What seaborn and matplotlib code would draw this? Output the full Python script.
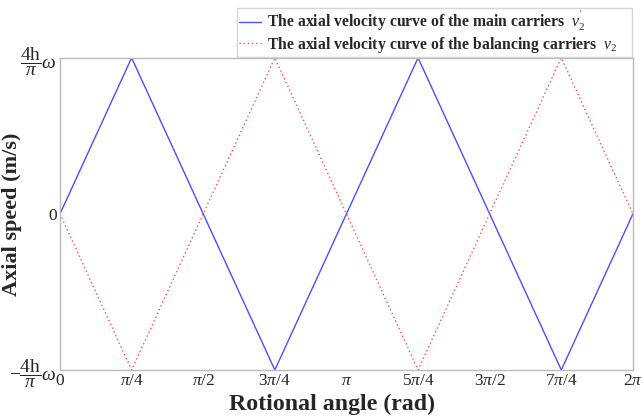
import numpy as np
import pandas as pd
import matplotlib
matplotlib.use("Agg")
import matplotlib.pyplot as plt
import seaborn as sns

# Data
angles = [0, np.pi/4, 3*np.pi/4, 5*np.pi/4, 7*np.pi/4, 2*np.pi]
main_carriers = [0, 1, -1, 1, -1, 0]
balancing_carriers = [0, -1, 1, -1, 1, 0]
x_ticks = [0, np.pi/4, np.pi/2, 3*np.pi/4, np.pi, 5*np.pi/4, 3*np.pi/2, 7*np.pi/4, 2*np.pi]
x_tick_labels = ['0', r'$\pi$/4', r'$\pi$/2', r'3$\pi$/4', r'$\pi$', r'5$\pi$/4', r'3$\pi$/2', r'7$\pi$/4', r'2$\pi$']
y_ticks = [-1, 0, 1]
y_tick_labels = [r'$-\dfrac{4\mathrm{h}}{\pi}\omega$', '0', r'$\dfrac{4\mathrm{h}}{\pi}\omega$']
label_main = r"The axial velocity curve of the main carriers  $v_2^{'}$"
label_bal = r"The axial velocity curve of the balancing carriers  $v_2$"

sns.set_theme(style="white")
plt.rcParams['font.family'] = ['Liberation Serif', 'DejaVu Serif']
plt.rcParams['mathtext.fontset'] = 'custom'
plt.rcParams['mathtext.rm'] = 'Liberation Serif'
plt.rcParams['mathtext.it'] = 'Liberation Serif:italic'

df = pd.DataFrame({'angle': angles * 2,
                   'speed': main_carriers + balancing_carriers,
                   'series': [label_main] * len(angles) + [label_bal] * len(angles)})

fig = plt.figure(figsize=(6.43, 4.19), dpi=100)
ax = fig.add_axes([0.0933, 0.117, 0.891, 0.745])
sns.lineplot(data=df, x='angle', y='speed', hue='series', style='series',
             palette={label_main: '#4d4dff', label_bal: '#ff4d4d'},
             dashes={label_main: '', label_bal: (1, 2)}, linewidth=1.0,
             ax=ax, legend=True, sort=False)

ax.set_xlim(0, 2*np.pi)
ax.set_ylim(-1, 1)
ax.set_xticks(x_ticks)
ax.set_xticklabels(x_tick_labels, fontsize=12.5)
ax.set_yticks(y_ticks)
ax.set_yticklabels(y_tick_labels, fontsize=12.5)
for lbl in ax.get_yticklabels():
    if lbl.get_text() != '0':
        lbl.set_fontsize(14)
ax.tick_params(direction='in', length=3, color='#bbbbbb', pad=2)
for s in ax.spines.values():
    s.set_color('#bbbbbb')
    s.set_linewidth(1.0)
ax.set_xlabel('Rotional angle (rad)', fontsize=17.2, fontweight='bold')
ax.xaxis.set_label_coords(0.475, -0.075)
ax.set_ylabel('Axial speed (m/s)', fontsize=16, fontweight='bold')
ax.yaxis.set_label_coords(-0.066, 0.5)

ax.legend(loc='lower left', mode='expand',
          bbox_to_anchor=(237/643, 1 - 57/419, (632 - 237)/643, 45/419),
          bbox_transform=fig.transFigure,
          prop={'weight': 'bold', 'size': 11.3}, frameon=True, fancybox=False,
          edgecolor='#cccccc', handlelength=1.4, handletextpad=0.35, borderpad=0.15,
          labelspacing=0.02, borderaxespad=0)

fig.savefig('out.png', dpi=100)
